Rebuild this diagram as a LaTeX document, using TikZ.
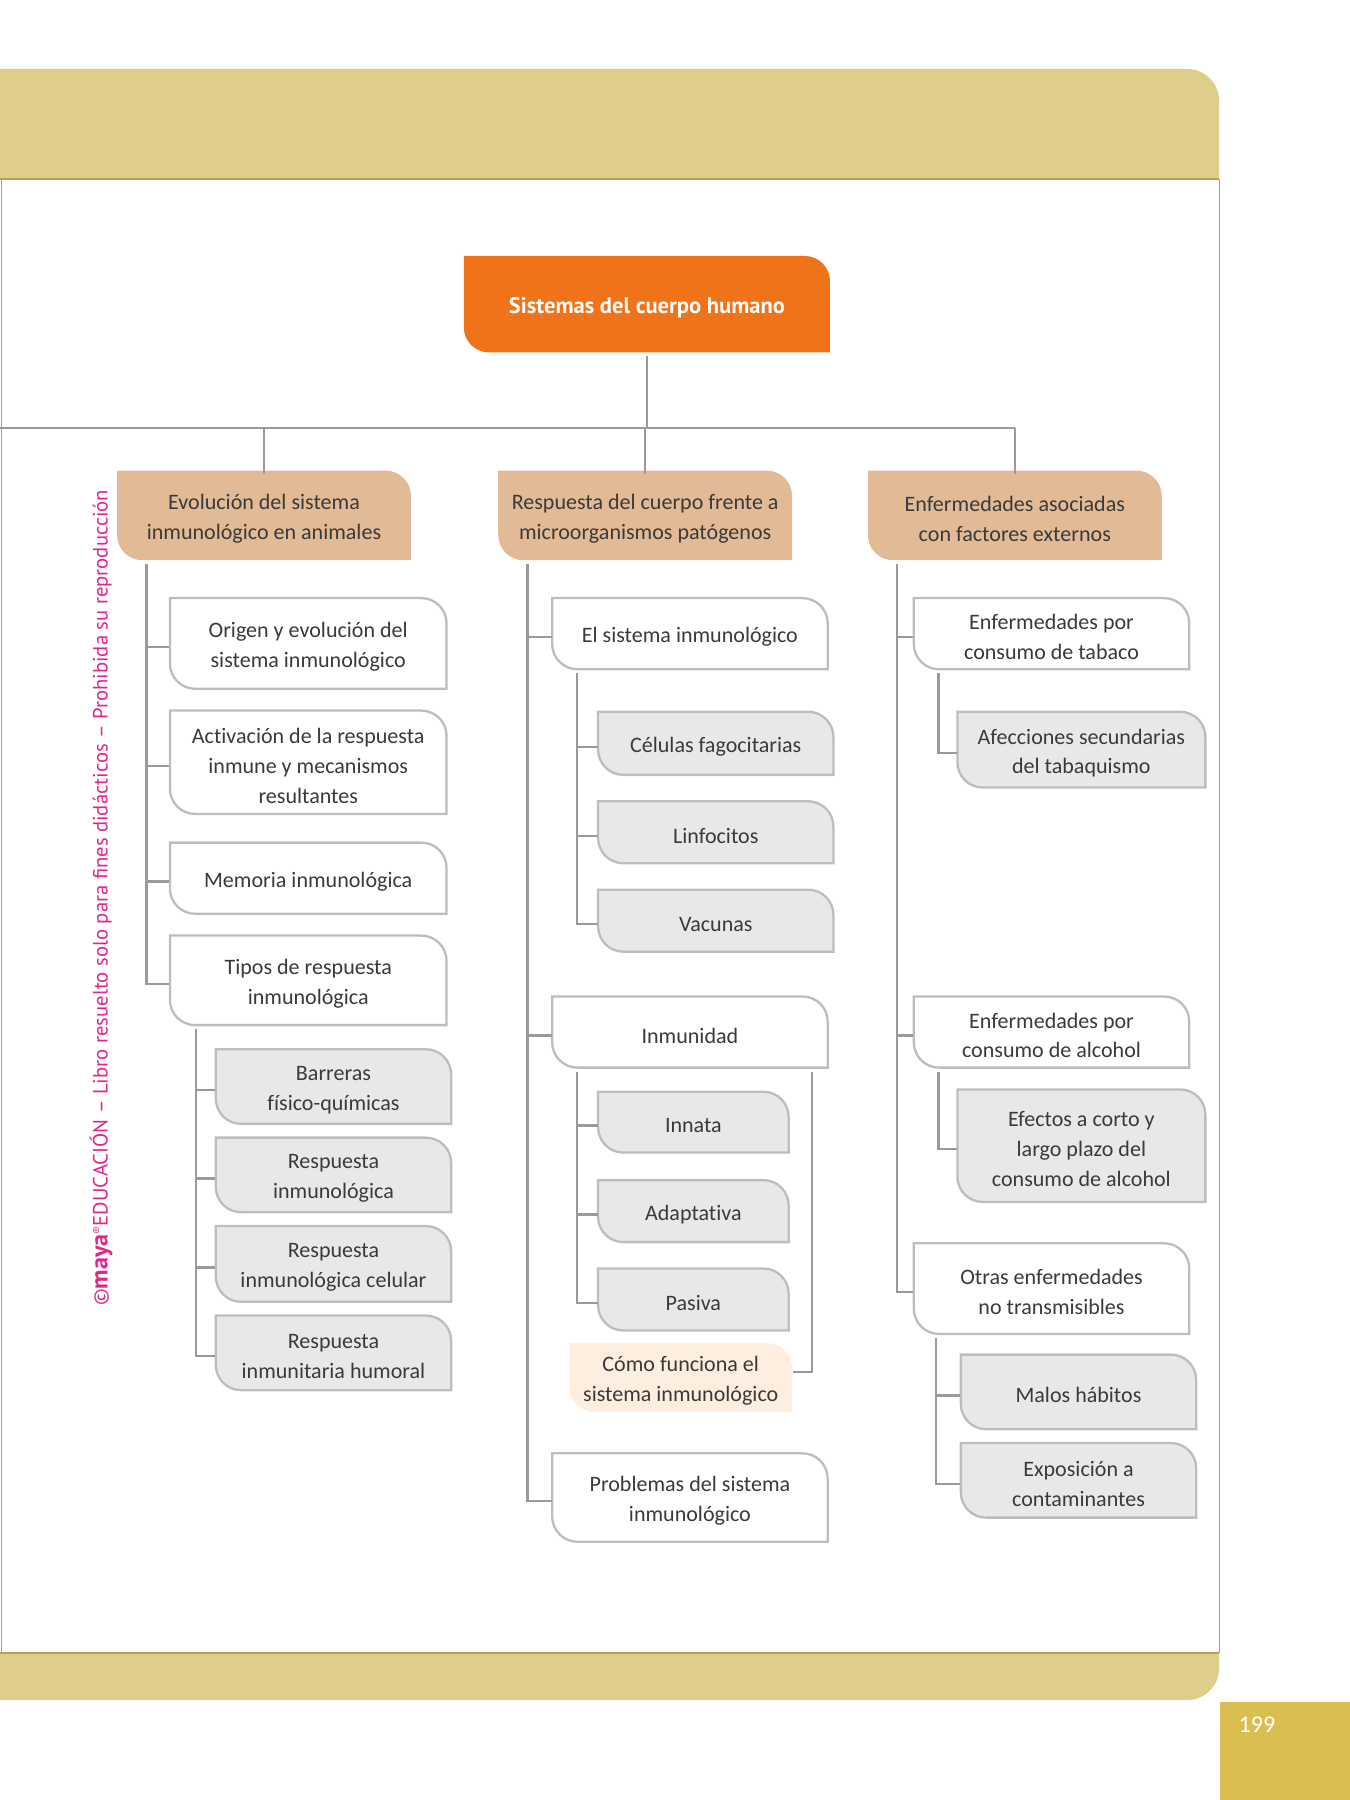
\documentclass[tikz,border=0pt]{standalone}
\usepackage{fontspec}
\setmainfont{Carlito}[Ligatures=NoCommon]
\newfontfamily\titlefont{PT Sans}
\usetikzlibrary{calc}
\definecolor{band}{HTML}{DFCD8C}
\definecolor{bandline}{HTML}{B9A24A}
\definecolor{pagebox}{HTML}{DABE4F}
\definecolor{rootc}{HTML}{F07319}
\definecolor{tanc}{HTML}{E2BA95}
\definecolor{grayboxc}{HTML}{E8E8E8}
\definecolor{graylinec}{HTML}{BDBDBD}
\definecolor{connc}{HTML}{9A9A9A}
\definecolor{peachc}{HTML}{FDEEDF}
\definecolor{txtc}{HTML}{3A3A3A}
\definecolor{wmark}{HTML}{E2258C}
\tikzset{
  lbl/.style={inner sep=0pt, align=center, text=txtc, font=\fontsize{9.6}{13}\selectfont},
  conline/.style={draw=connc, line width=1pt},
  rootfill/.style={fill=rootc},
  tanfill/.style={fill=tanc},
  whitebox/.style={fill=white, draw=graylinec, line width=1pt},
  greybox/.style={fill=grayboxc, draw=graylinec, line width=1pt},
  peachbox/.style={fill=peachc},
}
\newcommand\mkbox[7]{%
  \path[#1] (#3,-#4) -- ({#5-22},-#4) arc[start angle=90,end angle=0,radius=11pt]
    -- (#5,-#6) -- ({#3+22},-#6) arc[start angle=270,end angle=180,radius=11pt] -- cycle;
  \node[lbl, minimum width={(#5-#3)*0.5pt}, minimum height={(#6-#4)*0.5pt}] (#2)
    at ({(#3+#5)/2},{-(#4+#6)/2-3}) {#7};
}
\begin{document}
\begin{tikzpicture}[x=0.5pt,y=0.5pt]
\useasboundingbox (0,0) rectangle (1176,-1568);
% page frame
\fill[band] (0,-60) -- (1034,-60) arc[start angle=90,end angle=0,radius=14pt] -- (1062,-156) -- (0,-156) -- cycle;
\fill[band] (0,-1440) -- (1062,-1440) -- (1062,-1453) arc[start angle=0,end angle=-90,radius=14pt] -- (0,-1481) -- cycle;
\draw[bandline, line width=0.8pt] (0,-156) -- (1062,-156);
\draw[bandline, line width=0.8pt] (0,-1440) -- (1062,-1440);
\draw[bandline, line width=0.5pt] (1062,-156) -- (1062,-1440);
\draw[bandline, line width=0.5pt] (1,-156) -- (1,-1440);
\fill[pagebox] (1063,-1483) rectangle (1176,-1568);
\node[text=white, font=\fontsize{10.5}{12}\selectfont] (pg) at (1095,-1502) {199};
% watermark
\node[rotate=90, text=wmark, inner sep=0pt, font=\titlefont\fontsize{9}{10}\selectfont] (wm) at (88,-782)
  {©{\fontsize{10.5}{10}\selectfont\bfseries maya}\raisebox{0.6ex}{\fontsize{5}{5}\selectfont ®}EDUCACIÓN – Libro resuelto solo para fines didácticos – Prohibida su reproducción};
% root
\mkbox{rootfill}{root}{404}{223}{723}{307}{\color{white}\titlefont\fontsize{9.8}{12}\selectfont\bfseries Sistemas del cuerpo humano}
% level 1
\mkbox{tanfill}{A}{102}{410}{358}{488}{Evolución del sistema\\inmunológico en animales}
\mkbox{tanfill}{B}{434}{410}{690}{488}{Respuesta del cuerpo frente a\\microorganismos patógenos}
\mkbox{tanfill}{C}{756}{410}{1012}{488}{Enfermedades asociadas\\con factores externos}
% column A
\mkbox{whitebox}{A1}{148}{521}{389}{600}{Origen y evolución del\\sistema inmunológico}
\mkbox{whitebox}{A2}{148}{619}{389}{709}{Activación de la respuesta\\inmune y mecanismos\\resultantes}
\mkbox{whitebox}{A3}{148}{734}{389}{796}{Memoria inmunológica}
\mkbox{whitebox}{A4}{148}{815}{389}{893}{Tipos de respuesta\\inmunológica}
\mkbox{greybox}{A41}{188}{914}{393}{979}{Barreras\\físico-químicas}
\mkbox{greybox}{A42}{188}{991}{393}{1056}{Respuesta\\inmunológica}
\mkbox{greybox}{A43}{188}{1068}{393}{1134}{Respuesta\\inmunológica celular}
\mkbox{greybox}{A44}{188}{1146}{393}{1211}{Respuesta\\inmunitaria humoral}
% column B
\mkbox{whitebox}{B1}{481}{521}{721}{583}{El sistema inmunológico}
\mkbox{greybox}{B11}{521}{620}{726}{675}{Células fagocitarias}
\mkbox{greybox}{B12}{521}{698}{726}{752}{Linfocitos}
\mkbox{greybox}{B13}{521}{775}{726}{829}{Vacunas}
\mkbox{whitebox}{B2}{481}{868}{721}{930}{Inmunidad}
\mkbox{greybox}{B21}{521}{951}{687}{1004}{Innata}
\mkbox{greybox}{B22}{521}{1028}{687}{1082}{Adaptativa}
\mkbox{greybox}{B23}{521}{1105}{687}{1159}{Pasiva}
\mkbox{peachbox}{B24}{496}{1170}{690}{1230}{Cómo funciona el\\sistema inmunológico}
\mkbox{whitebox}{B3}{481}{1266}{721}{1343}{Problemas del sistema\\inmunológico}
% column C
\mkbox{whitebox}{C1}{796}{521}{1036}{583}{Enfermedades por\\consumo de tabaco}
\mkbox{greybox}{C11}{834}{620}{1050}{686}{Afecciones secundarias\\del tabaquismo}
\mkbox{whitebox}{C2}{796}{868}{1036}{930}{Enfermedades por\\consumo de alcohol}
\mkbox{greybox}{C21}{834}{949}{1050}{1047}{Efectos a corto y\\largo plazo del\\consumo de alcohol}
\mkbox{whitebox}{C3}{796}{1083}{1036}{1162}{Otras enfermedades\\no transmisibles}
\mkbox{greybox}{C31}{837}{1180}{1042}{1245}{Malos hábitos}
\mkbox{greybox}{C32}{837}{1257}{1042}{1322}{Exposición a\\contaminantes}
% connectors
\coordinate (hl) at (0,-373);
\draw[conline] (root.south) -- (root.south |- hl);
\draw[conline] (hl) -- (hl -| C.north);
\foreach \n in {A,B,C} \draw[conline] (\n.north |- hl) -- (\n.north);
\coordinate (sA) at ([xshift=13pt]A.south west);
\coordinate (sB) at ([xshift=13pt]B.south west);
\coordinate (sC) at ([xshift=13pt]C.south west);
\foreach \n in {A1,A2,A3,A4} \draw[conline] (sA) |- (\n.west);
\foreach \n in {B1,B2,B3} \draw[conline] (sB) |- (\n.west);
\foreach \n in {C1,C2,C3} \draw[conline] (sC) |- (\n.west);
\coordinate (sA4) at ([xshift=11.5pt]A4.south west);
\foreach \n in {A41,A42,A43,A44} \draw[conline] (sA4) |- (\n.west);
\coordinate (sB1) at ([xshift=11pt]B1.south west);
\foreach \n in {B11,B12,B13} \draw[conline] (sB1) |- (\n.west);
\coordinate (sB2) at ([xshift=11pt]B2.south west);
\foreach \n in {B21,B22,B23} \draw[conline] (sB2) |- (\n.west);
\draw[conline] ([xshift=-7pt]B2.south east) |- ([yshift=4pt]B24.east);
\coordinate (sC1) at ([xshift=11pt]C1.south west);
\draw[conline] (sC1) |- (C11.west);
\coordinate (sC2) at ([xshift=11pt]C2.south west);
\draw[conline] (sC2) |- (C21.west);
\coordinate (sC3) at ([xshift=10pt]C3.south west);
\foreach \n in {C31,C32} \draw[conline] (sC3) |- (\n.west);
\end{tikzpicture}
\end{document}
